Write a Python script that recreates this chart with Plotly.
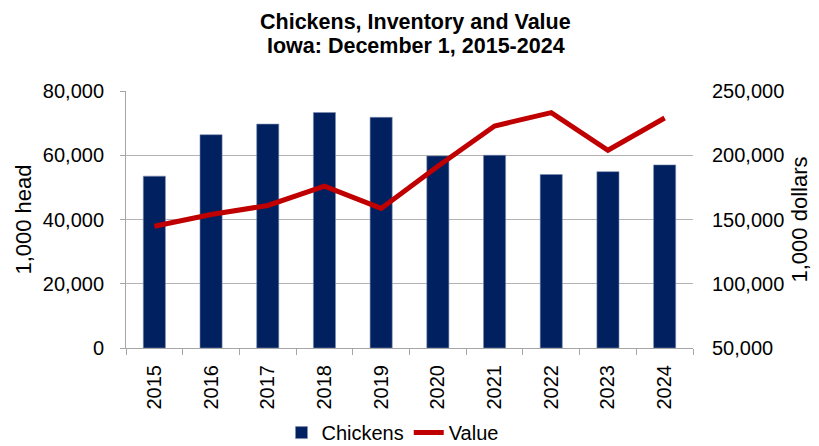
import plotly.graph_objects as go

years = ["2015", "2016", "2017", "2018", "2019", "2020", "2021", "2022", "2023", "2024"]
chickens = [53500, 66400, 69700, 73300, 71800, 59800, 60000, 54000, 54900, 57000]
value = [144800, 153900, 160900, 175900, 158600, 191500, 222800, 233200, 203900, 229000]
title_lines = ["Chickens, Inventory and Value", "Iowa: December 1, 2015-2024"]

FONT = "Liberation Sans, Arial, sans-serif"

fig = go.Figure()
fig.add_trace(go.Bar(
    x=years, y=chickens, name="Chickens",
    marker=dict(color="#002060", line=dict(color="#7f8fb0", width=0.6)),
    yaxis="y",
))
fig.add_trace(go.Scatter(
    x=years, y=value, name="Value", mode="lines",
    line=dict(color="#C00000", width=5),
    yaxis="y2",
))

for txt, yy in zip(title_lines, [1.268, 1.174]):
    fig.add_annotation(
        text=f"<b>{txt}</b>", xref="paper", yref="paper",
        x=0.511, y=yy, xanchor="center", yanchor="middle",
        showarrow=False, font=dict(family=FONT, size=21.5, color="#000000"),
    )

fig.update_layout(
    width=819, height=446,
    margin=dict(l=126, r=126, t=91, b=98),
    paper_bgcolor="white", plot_bgcolor="white",
    font=dict(family=FONT, color="#000000", size=20),
    bargap=0.61,
    showlegend=True,
    legend=dict(
        orientation="h", x=0.47, xanchor="center",
        y=0.03, yanchor="middle", yref="container",
        font=dict(size=20), traceorder="normal",
    ),
    xaxis=dict(
        type="category", automargin=False,
        showline=True, linecolor="#a6a6a6", linewidth=1,
        ticks="outside", tickson="boundaries", ticklen=6, tickcolor="#a6a6a6",
        tickangle=-90, tickfont=dict(size=20), ticklabelstandoff=8,
        showgrid=False,
    ),
    yaxis=dict(
        range=[0, 80000], dtick=20000, tickformat=",", automargin=False,
        showline=True, linecolor="#a6a6a6", linewidth=1,
        ticks="outside", ticklen=5, tickcolor="#a6a6a6",
        showgrid=True, gridcolor="#b3b3b3", gridwidth=1,
        tickfont=dict(size=20), ticklabelstandoff=12,
        title=dict(text="1,000 head", font=dict(size=22), standoff=5),
        zeroline=False,
    ),
    yaxis2=dict(
        range=[50000, 250000], dtick=50000, tickformat=",", automargin=False,
        overlaying="y", side="right",
        showline=False, ticks="", showgrid=False, zeroline=False,
        tickfont=dict(size=20), ticklabelstandoff=18,
        title=dict(text="1,000 dollars", font=dict(size=22), standoff=8),
    ),
)

fig.write_html(
    "out.html",
    config={"displayModeBar": False},
    post_script="document.body.style.margin='0';document.body.style.overflow='hidden';",
)
